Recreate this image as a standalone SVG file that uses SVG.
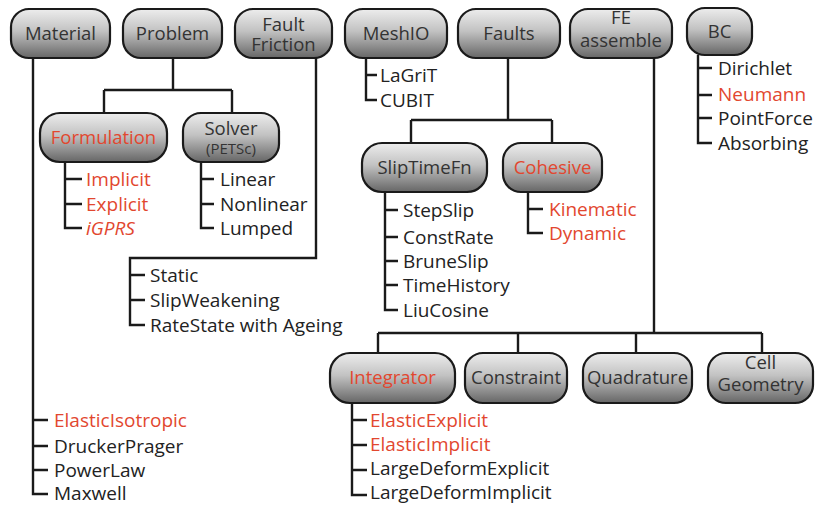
<svg xmlns="http://www.w3.org/2000/svg" width="817" height="506" viewBox="0 0 817 506">
<defs>
<linearGradient id="g" x1="0" y1="0" x2="0" y2="1">
<stop offset="0" stop-color="#ededed"/>
<stop offset="0.45" stop-color="#c2c2c2"/>
<stop offset="1" stop-color="#666"/>
</linearGradient>
</defs>
<style>
.box{fill:url(#g);stroke:#1a1a1a;stroke-width:2.2}
.nt{font-family:"Open Sans","Noto Sans",sans-serif;font-size:18.5px;fill:#333;text-anchor:middle}
.sm{font-size:15px}
.ct{font-family:"Open Sans","Noto Sans",sans-serif;font-size:19px;fill:#222}
.red{fill:#e2472f}
.it{font-style:italic}
#connectors path{fill:none;stroke:#1a1a1a;stroke-width:2.4}
</style>
<rect width="817" height="506" fill="#fff"/>
<g id="connectors">
<path d="M33,58V494H48M33,420H48M33,446H48M33,470H48"/>
<path d="M173,58V90M104,90H232M104,90V113M232,90V113"/>
<path d="M65,162V228H82M65,179H82M65,204H82"/>
<path d="M201,162V228H214M201,179H214M201,204H214"/>
<path d="M316,58V258H130V325H145M130,275H145M130,300H145"/>
<path d="M366,58V100H377M366,75H377"/>
<path d="M508,58V120M411,120H552M411,120V143M552,120V143"/>
<path d="M385,192V310H398M385,210H398M385,237H398M385,261H398M385,285H398"/>
<path d="M528,192V233H543M528,209H543"/>
<path d="M654,58V333M378,333H762M378,333V353M518,333V353M636,333V353M762,333V353"/>
<path d="M352,403V495H367M352,420H367M352,445H367M352,470H367"/>
<path d="M698,55V143H712M698,68H712M698,95H712M698,118H712"/>
</g>
<g id="material"><rect class="box" x="11" y="9" width="99" height="49" rx="18"/><text class="nt" x="60.5" y="40">Material</text>
<text class="ct red" x="54" y="427">ElasticIsotropic</text><text class="ct" x="54" y="453">DruckerPrager</text><text class="ct" x="54" y="477">PowerLaw</text><text class="ct" x="54" y="500">Maxwell</text></g>
<g id="problem"><rect class="box" x="123" y="9" width="99" height="49" rx="18"/><text class="nt" x="172.5" y="40">Problem</text></g>
<g id="faultfriction"><rect class="box" x="235" y="9" width="97" height="49" rx="18"/><text class="nt" x="283.5" y="31">Fault</text><text class="nt" x="283.5" y="51">Friction</text>
<text class="ct" x="150" y="282">Static</text><text class="ct" x="150" y="307">SlipWeakening</text><text class="ct" x="150" y="332">RateState with Ageing</text></g>
<g id="meshio"><rect class="box" x="345" y="9" width="102" height="49" rx="18"/><text class="nt" x="396" y="40">MeshIO</text>
<text class="ct" x="380" y="82">LaGriT</text><text class="ct" x="380" y="107">CUBIT</text></g>
<g id="faults"><rect class="box" x="458" y="9" width="102" height="49" rx="18"/><text class="nt" x="509" y="40">Faults</text></g>
<g id="feassemble"><rect class="box" x="570" y="9" width="102" height="49" rx="18"/><text class="nt" x="621" y="24">FE</text><text class="nt" x="621" y="47">assemble</text></g>
<g id="bc"><rect class="box" x="687" y="8" width="65" height="47" rx="18"/><text class="nt" x="719.5" y="38">BC</text>
<text class="ct" x="718" y="75">Dirichlet</text><text class="ct red" x="718" y="101">Neumann</text><text class="ct" x="718" y="125">PointForce</text><text class="ct" x="718" y="150">Absorbing</text></g>
<g id="formulation"><rect class="box" x="40" y="113" width="127" height="49" rx="20"/><text class="nt red" x="103.5" y="144">Formulation</text>
<text class="ct red" x="86" y="186">Implicit</text><text class="ct red" x="86" y="211">Explicit</text><text class="ct red it" x="86" y="235">iGPRS</text></g>
<g id="solver"><rect class="box" x="183" y="113" width="96" height="49" rx="18"/><text class="nt" x="231" y="135">Solver</text><text class="nt sm" x="231" y="154">(PETSc)</text>
<text class="ct" x="220" y="186">Linear</text><text class="ct" x="220" y="211">Nonlinear</text><text class="ct" x="220" y="235">Lumped</text></g>
<g id="sliptimefn"><rect class="box" x="362" y="143" width="125" height="49" rx="20"/><text class="nt" x="424.5" y="174">SlipTimeFn</text>
<text class="ct" x="403" y="217">StepSlip</text><text class="ct" x="403" y="244">ConstRate</text><text class="ct" x="403" y="268">BruneSlip</text><text class="ct" x="403" y="292">TimeHistory</text><text class="ct" x="403" y="317">LiuCosine</text></g>
<g id="cohesive"><rect class="box" x="503" y="143" width="99" height="49" rx="18"/><text class="nt red" x="552.5" y="174">Cohesive</text>
<text class="ct red" x="549" y="216">Kinematic</text><text class="ct red" x="549" y="240">Dynamic</text></g>
<g id="integrator"><rect class="box" x="330" y="353" width="125" height="50" rx="20"/><text class="nt red" x="392.5" y="384">Integrator</text>
<text class="ct red" x="370" y="427">ElasticExplicit</text><text class="ct red" x="370" y="451">ElasticImplicit</text><text class="ct" x="370" y="475">LargeDeformExplicit</text><text class="ct" x="370" y="499">LargeDeformImplicit</text></g>
<g id="constraint"><rect class="box" x="465" y="353" width="102" height="50" rx="18"/><text class="nt" x="516" y="384">Constraint</text></g>
<g id="quadrature"><rect class="box" x="583" y="353" width="109" height="50" rx="18"/><text class="nt" x="637.5" y="384">Quadrature</text></g>
<g id="cellgeometry"><rect class="box" x="708" y="353" width="105" height="50" rx="18"/><text class="nt" x="760.5" y="369">Cell</text><text class="nt" x="760.5" y="391">Geometry</text></g>
</svg>
